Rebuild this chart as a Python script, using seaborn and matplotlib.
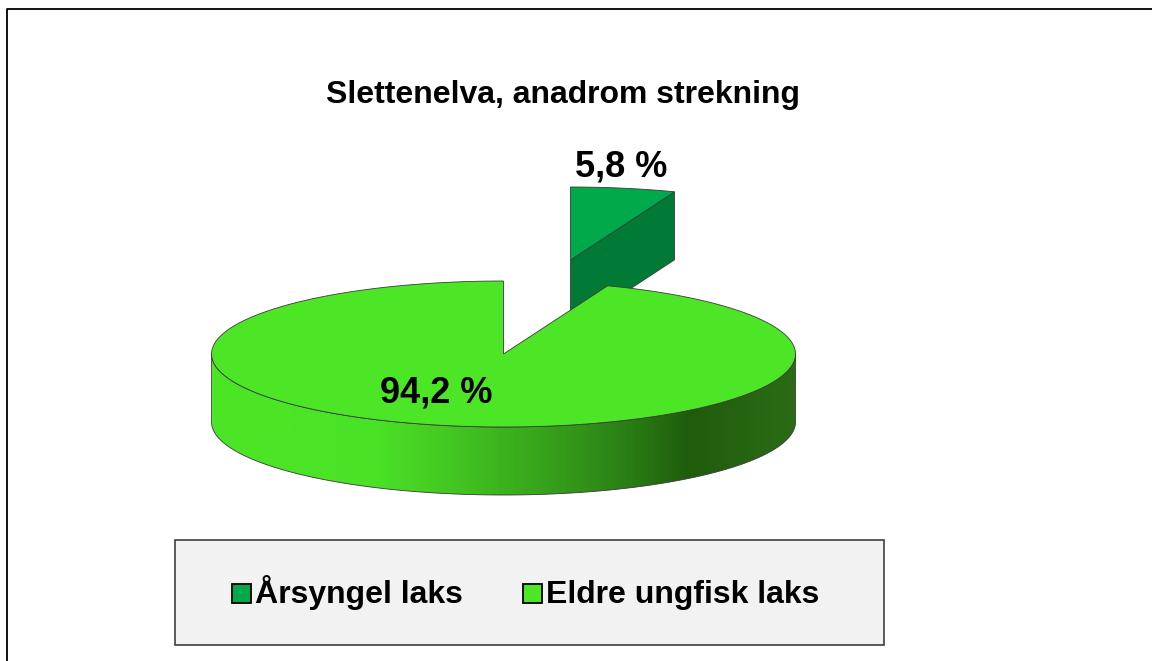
"""
3D-style pie chart: Slettenelva, anadrom strekning.
"""
import matplotlib.pyplot as plt
import seaborn as sns
import numpy as np
from matplotlib.patches import Polygon, Rectangle
from matplotlib.colors import LinearSegmentedColormap

# Data
categories = ["Årsyngel laks", "Eldre ungfisk laks"]
values = [5.8, 94.2]
labels = ["5,8 %", "94,2 %"]
title = "Slettenelva, anadrom strekning"

# Style
top_colors = ["#00A94A", "#4CE626"]
side_colors = ["#007A35", None]
side_gradient = [(0.0, "#4CE626"), (0.28, "#4AE226"), (0.40, "#44C922"),
                 (0.58, "#36A01B"), (0.70, "#2C8216"), (0.82, "#1F5C0C"),
                 (1.0, "#2C6C16")]
edge = "#3A3A3A"

# Geometry in pixel coordinates
cx, cy = 503.5, 354
rx, ry = 292, 73
depth = 68
explode = [(67, -94), (0, 0)]

sns.set_theme(style="white")
plt.rcParams['font.family'] = ['Liberation Sans', 'DejaVu Sans']
plt.rcParams['text.color'] = 'black'

fig = plt.figure(figsize=(11.52, 6.61), dpi=100)
ax = fig.add_axes([0, 0, 1, 1])
ax.set_xlim(0, 1152)
ax.set_ylim(661, 0)
ax.axis('off')


def rim(theta_deg, dx=0, dy=0, down=0):
    t = np.radians(theta_deg)
    return np.column_stack([cx + dx + rx * np.cos(t),
                            cy + dy - ry * np.sin(t) + down])


# slice angles: start at 12 o'clock, clockwise
total = sum(values)
bounds = []
start = 90.0
for v in values:
    end = start - 360.0 * v / total
    bounds.append((start, end))
    start = end

# --- exploded small slice (drawn first, sits behind main pie) ---
(s0, s1), (dx, dy) = bounds[0], explode[0]
cut = rim(s1, dx, dy)[0]
vtx = np.array([cx + dx, cy + dy])
side = np.array([vtx, cut, cut + [0, depth], vtx + [0, depth]])
ax.add_patch(Polygon(side, closed=True, fc=side_colors[0], ec=edge, lw=0.6, zorder=2))
arc = rim(np.linspace(s0, s1, 40), dx, dy)
ax.add_patch(Polygon(np.vstack([vtx, arc]), closed=True, fc=top_colors[0],
                     ec=edge, lw=0.6, zorder=3))

# --- main slice ---
m0, m1 = bounds[1]
# front wall (visible part: angles between 180 and 360)
th = np.linspace(-180, 0, 200)
upper = rim(th)
lower = rim(th[::-1], down=depth)
wall = Polygon(np.vstack([upper, lower]), closed=True, fc="none", ec=edge,
               lw=0.6, zorder=5)
ax.add_patch(wall)
cmap = LinearSegmentedColormap.from_list("wall", side_gradient)
grad = np.linspace(0, 1, 512).reshape(1, -1)
img = ax.imshow(grad, cmap=cmap, aspect='auto', zorder=4,
                extent=[cx - rx, cx + rx, cy + ry + depth, cy - ry])
img.set_clip_path(wall)

# top face
arc = rim(np.linspace(m0, m1, 400))
ax.add_patch(Polygon(np.vstack([[cx, cy], arc]), closed=True, fc=top_colors[1],
                     ec=edge, lw=0.6, zorder=6))

# data labels
ax.text(621, 177, labels[0], fontsize=26, fontweight='bold', ha='center',
        va='baseline', color='black', zorder=7)
ax.text(436, 403, labels[1], fontsize=26, fontweight='bold', ha='center',
        va='baseline', color='black', zorder=7)

# title
ax.text(563.5, 103, title, fontsize=23, fontweight='bold', ha='center',
        va='baseline', color='black')

# legend box
ax.add_patch(Rectangle((175, 540), 709, 105, fc="#F2F2F2", ec="#404040",
                       lw=1.2, zorder=1))
leg_x = [232, 523]
for x, name, col in zip(leg_x, categories, top_colors):
    ax.add_patch(Rectangle((x, 584), 19, 19, fc=col, ec="black", lw=1.3, zorder=2))
    ax.text(x + 23, 603, name, fontsize=23, fontweight='bold', ha='left',
            va='baseline', color='black', zorder=2)

# outer chart frame (top and left edges visible)
ax.plot([7, 7, 1152], [661, 9, 9], color="black", lw=1.3, zorder=8)

plt.savefig("out.png", dpi=100)
